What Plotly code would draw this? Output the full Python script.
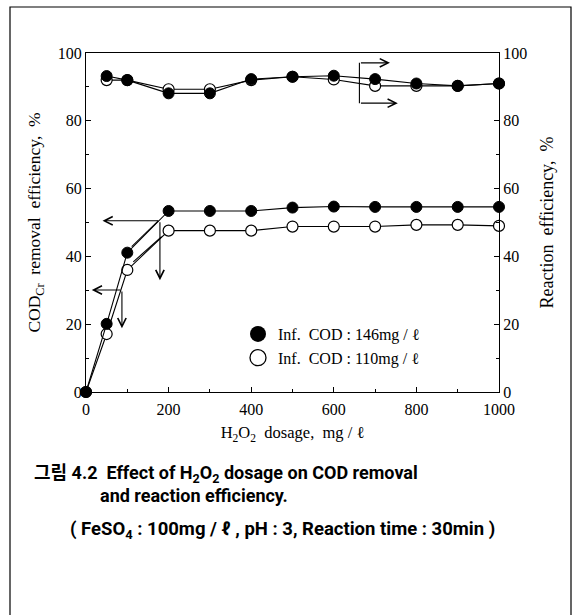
import plotly.graph_objects as go

# H2O2 dosage (mg/L)
dosage = [0, 50, 100, 200, 300, 400, 500, 600, 700, 800, 900, 1000]
dosage_re = [50, 100, 200, 300, 400, 500, 600, 700, 800, 900, 1000]

# COD_Cr removal efficiency (%)
removal_146 = [0, 20.1, 41.1, 53.4, 53.4, 53.4, 54.4, 54.7, 54.6, 54.6, 54.6, 54.6]
removal_110 = [0, 17.1, 36.0, 47.6, 47.6, 47.6, 48.8, 48.8, 48.8, 49.3, 49.3, 49.0]

# Reaction efficiency (%)
reaction_146 = [93.2, 92.0, 88.1, 88.1, 92.3, 93.0, 93.3, 92.3, 91.0, 90.3, 91.0]
reaction_110 = [92.0, 92.0, 89.3, 89.3, 92.0, 93.0, 92.2, 90.3, 90.3, 90.3, 91.0]

x_ticks = [0, 200, 400, 600, 800, 1000]
y_ticks = [0, 20, 40, 60, 80, 100]

SERIF = "Liberation Serif, Times New Roman, serif"
CAPTION = "Roboto, Noto Sans CJK KR, sans-serif"

L, R, T, B = 86, 81, 53, 223
W, H = 580 - L - R, 615 - T - B


def px(xp):
    return (xp - L) / W


def py(yp):
    return (615 - B - yp) / H


open_marker = dict(symbol="circle", size=11, color="white",
                   line=dict(color="black", width=1.2))
fill_marker = dict(symbol="circle", size=11, color="black",
                   line=dict(color="black", width=1))
line_style = dict(color="black", width=1.1)

fig = go.Figure()

fig.add_trace(go.Scatter(x=dosage, y=removal_110, mode="lines+markers",
                         line=line_style, marker=open_marker,
                         showlegend=False, cliponaxis=False))
fig.add_trace(go.Scatter(x=dosage, y=removal_146, mode="lines+markers",
                         line=line_style, marker=fill_marker,
                         showlegend=False, cliponaxis=False))
fig.add_trace(go.Scatter(x=dosage_re, y=reaction_110, mode="lines+markers",
                         line=line_style, marker=open_marker, yaxis="y2",
                         showlegend=False, cliponaxis=False))
fig.add_trace(go.Scatter(x=dosage_re, y=reaction_146, mode="lines+markers",
                         line=line_style, marker=fill_marker, yaxis="y2",
                         showlegend=False, cliponaxis=False))

# legend entries
fig.add_trace(go.Scatter(x=[None], y=[None], mode="markers",
                         marker=dict(symbol="circle", size=16, color="black"),
                         name="Inf.  COD : 146mg / ℓ"))
fig.add_trace(go.Scatter(x=[None], y=[None], mode="markers",
                         marker=dict(symbol="circle", size=16, color="white",
                                     line=dict(color="black", width=1.3)),
                         name="Inf.  COD : 110mg / ℓ"))

axis_common = dict(showline=True, linecolor="black", linewidth=1.2,
                   ticks="inside", ticklen=5, tickcolor="black",
                   showgrid=False, zeroline=False,
                   tickfont=dict(family=SERIF, size=16, color="black"))

fig.update_layout(
    width=580, height=615,
    margin=dict(l=L, r=R, t=T, b=B),
    paper_bgcolor="white", plot_bgcolor="white",
    xaxis=dict(range=[0, 1000], tickvals=x_ticks, mirror=True,
               ticklabelstandoff=3,
               minor=dict(dtick=100, ticks="inside", ticklen=3,
                          tickcolor="black"),
               title=dict(text="H<sub>2</sub>O<sub>2</sub>  dosage,  mg / ℓ",
                          font=dict(family=SERIF, size=16.5, color="black"),
                          standoff=9),
               **axis_common),
    yaxis=dict(range=[0, 100], tickvals=y_ticks,
               minor=dict(dtick=10, ticks="inside", ticklen=3,
                          tickcolor="black"),
               title=dict(text="COD<sub>Cr</sub>  removal  efficiency,  %",
                          font=dict(family=SERIF, size=17.5, color="black"),
                          standoff=12),
               **axis_common),
    yaxis2=dict(range=[0, 100], tickvals=y_ticks, overlaying="y",
                side="right",
                minor=dict(dtick=10, ticks="inside", ticklen=3,
                           tickcolor="black"),
                title=dict(text="Reaction  efficiency,  %",
                           font=dict(family=SERIF, size=18, color="black"),
                           standoff=14),
                **axis_common),
    legend=dict(x=px(238), y=py(317), xanchor="left", yanchor="top",
                bgcolor="rgba(0,0,0,0)", itemwidth=30,
                tracegroupgap=0,
                font=dict(family=SERIF, size=16, color="black")),
)

# outer frame around figure and caption
fig.add_shape(type="rect", xref="paper", yref="paper",
              x0=px(10), x1=px(571), y0=py(625), y1=py(7),
              line=dict(color="black", width=1.2), layer="below")

# leader lines from the curves to their axes
leaders = [
    (175, 50.5, 110.7, 42.9),
    (183, 45.8, 114.5, 38.4),
    (662, 85.2, 662, 97.1),
]
for x0, y0, x1, y1 in leaders:
    fig.add_shape(type="line", xref="x", yref="y", x0=x0, y0=y0, x1=x1, y1=y1,
                  line=dict(color="black", width=1.1))

# arrows: (tip x, tip y, tail x, tail y)
arrows = [
    (40, 50.5, 179, 50.5),
    (179, 33.0, 179, 50.5),
    (14, 30.1, 87, 30.1),
    (87, 18.8, 87, 30.1),
    (736, 97.1, 662, 97.1),
    (755, 85.2, 662, 85.2),
]
for tx, ty, sx, sy in arrows:
    fig.add_annotation(x=tx, y=ty, ax=sx, ay=sy, xref="x", yref="y",
                       axref="x", ayref="y", text="", showarrow=True,
                       arrowhead=5, arrowsize=1.5, arrowwidth=1.1,
                       arrowcolor="black", standoff=0, startstandoff=0)

# caption
cap_font = dict(family=CAPTION, size=18, color="black", weight="bold")
fig.add_annotation(xref="paper", yref="paper", x=px(32), y=py(474),
                   xanchor="left", yanchor="middle", showarrow=False,
                   text="그림 4.2  Effect of H<sub>2</sub>O<sub>2</sub> dosage on COD removal",
                   font=cap_font)
fig.add_annotation(xref="paper", yref="paper", x=px(98), y=py(496),
                   xanchor="left", yanchor="middle", showarrow=False,
                   text="and reaction efficiency.", font=cap_font)
fig.add_annotation(xref="paper", yref="paper", x=px(282), y=py(530),
                   xanchor="center", yanchor="middle", showarrow=False,
                   text="( FeSO<sub>4</sub> : 100mg / ℓ , pH : 3, Reaction time : 30min )",
                   font=dict(family=CAPTION, size=18.5, color="black",
                             weight="bold"))

fig.write_html("out.html")
